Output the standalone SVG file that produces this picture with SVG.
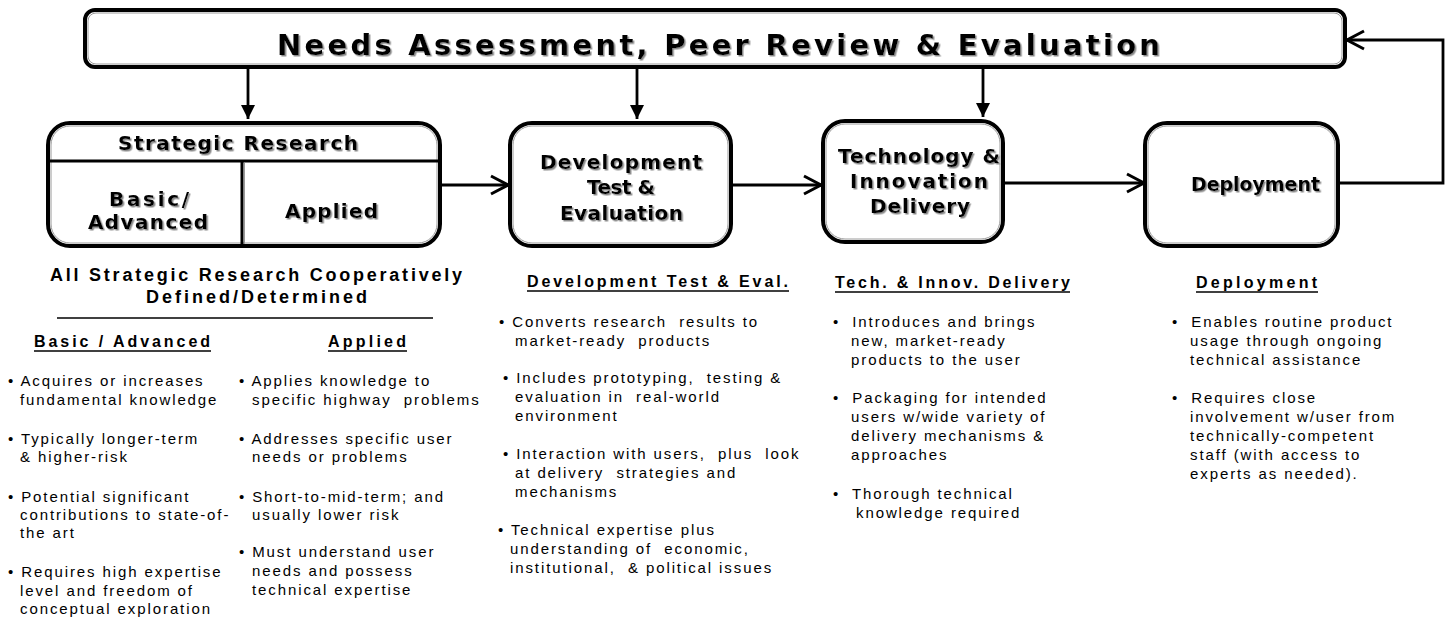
<svg xmlns="http://www.w3.org/2000/svg" width="1452" height="619" viewBox="0 0 1452 619">
<defs>
<filter id="sh" x="-5%" y="-20%" width="110%" height="150%">
<feDropShadow dx="1.5" dy="1.5" stdDeviation="0.7" flood-color="#8a8a8a" flood-opacity="1"/>
</filter>
<marker id="fill" markerWidth="16" markerHeight="16" refX="14" refY="7" orient="auto" markerUnits="userSpaceOnUse">
<path d="M0,0 L14,7 L0,14 z" fill="#000"/>
</marker>
<marker id="open" markerWidth="24" markerHeight="24" refX="19" refY="11" orient="auto" markerUnits="userSpaceOnUse">
<path d="M2,2 L19,11 L2,20" fill="none" stroke="#000" stroke-width="3"/>
</marker>
</defs>
<style>
.box{fill:#fff;stroke:#000;stroke-width:4}
.inner{fill:none;stroke:#9a9a9a;stroke-width:1}
.ttl{font-family:"DejaVu Sans",Verdana,sans-serif;font-weight:bold;fill:#000;filter:url(#sh)}
.hd{font-family:"Liberation Sans",Arial,sans-serif;font-weight:bold;fill:#000}
.tx{font-family:"Liberation Sans",Arial,sans-serif;font-size:15px;letter-spacing:1.9px;fill:#000;white-space:pre}
.ln{stroke:#000;stroke-width:2.8;fill:none}
.ul{stroke:#000;stroke-width:1.6}
</style>
<rect width="1452" height="619" fill="#fff"/>

<g id="connectors">
<line class="ln" x1="248" y1="68" x2="248" y2="119" marker-end="url(#fill)"/>
<line class="ln" x1="637" y1="68" x2="637" y2="119" marker-end="url(#fill)"/>
<line class="ln" x1="983" y1="68" x2="983" y2="117" marker-end="url(#fill)"/>
<line class="ln" x1="442" y1="185" x2="508" y2="185" marker-end="url(#open)"/>
<line class="ln" x1="733" y1="185" x2="821" y2="185" marker-end="url(#open)"/>
<line class="ln" x1="1005" y1="183" x2="1144" y2="183" marker-end="url(#open)"/>
<polyline class="ln" points="1339,183 1443,183 1443,40 1347,40" marker-end="url(#open)"/>
</g>

<g id="banner">
<rect class="box" x="85" y="10" width="1260" height="57" rx="10"/>
<rect class="inner" x="88" y="13" width="1254" height="51" rx="8"/>
<text class="ttl" x="277" y="55" font-size="29" textLength="883" lengthAdjust="spacing">Needs Assessment, Peer Review &amp; Evaluation</text>
</g>

<g id="strategic-research">
<rect class="box" x="48" y="123" width="392" height="123" rx="22"/>
<rect class="inner" x="51" y="126" width="386" height="117" rx="19"/>
<line x1="48" y1="161" x2="440" y2="161" stroke="#000" stroke-width="3"/>
<line x1="242" y1="161" x2="242" y2="246" stroke="#000" stroke-width="3"/>
<line x1="244.5" y1="163" x2="244.5" y2="244" stroke="#9a9a9a" stroke-width="1"/>
<text class="ttl" x="118" y="150" font-size="20" textLength="240" lengthAdjust="spacing">Strategic Research</text>
<text class="ttl" x="109" y="206" font-size="20" textLength="80" lengthAdjust="spacing">Basic/</text>
<text class="ttl" x="88" y="229" font-size="20" textLength="120" lengthAdjust="spacing">Advanced</text>
<text class="ttl" x="285" y="218" font-size="20" textLength="93" lengthAdjust="spacing">Applied</text>
</g>

<g id="development">
<rect class="box" x="510" y="123" width="221" height="123" rx="22"/>
<rect class="inner" x="513" y="126" width="215" height="117" rx="19"/>
<text class="ttl" x="540" y="169" font-size="20" textLength="162" lengthAdjust="spacing">Development</text>
<text class="ttl" x="587" y="194" font-size="20" textLength="68" lengthAdjust="spacing">Test &amp;</text>
<text class="ttl" x="560" y="220" font-size="20" textLength="123" lengthAdjust="spacing">Evaluation</text>
</g>

<g id="tech-innovation">
<rect class="box" x="823" y="121" width="180" height="121" rx="22"/>
<rect class="inner" x="826" y="124" width="174" height="115" rx="19"/>
<text class="ttl" x="838" y="163" font-size="20" textLength="162" lengthAdjust="spacing">Technology &amp;</text>
<text class="ttl" x="850" y="188" font-size="20" textLength="138" lengthAdjust="spacing">Innovation</text>
<text class="ttl" x="870" y="213" font-size="20" textLength="100" lengthAdjust="spacing">Delivery</text>
</g>

<g id="deployment">
<rect class="box" x="1145" y="123" width="193" height="123" rx="22"/>
<rect class="inner" x="1148" y="126" width="187" height="117" rx="19"/>
<text class="ttl" x="1191" y="191" font-size="19" textLength="129" lengthAdjust="spacing">Deployment</text>
</g>

<g id="strategic-text">
<text class="hd" x="50" y="281" font-size="18" textLength="412" lengthAdjust="spacing">All Strategic Research Cooperatively</text>
<text class="hd" x="146" y="303" font-size="18" textLength="221" lengthAdjust="spacing">Defined/Determined</text>
<line x1="57" y1="318" x2="433" y2="318" stroke="#000" stroke-width="1.5"/>
<text class="hd" x="34" y="347" font-size="16" textLength="176" lengthAdjust="spacing">Basic / Advanced</text>
<line class="ul" x1="34" y1="351" x2="211" y2="351"/>
<text class="hd" x="328" y="347" font-size="16" textLength="78" lengthAdjust="spacing">Applied</text>
<line class="ul" x1="328" y1="351" x2="407" y2="351"/>
<text class="tx" x="8" y="386">• Acquires or increases</text>
<text class="tx" x="20" y="405">fundamental knowledge</text>
<text class="tx" x="8" y="444">• Typically longer-term</text>
<text class="tx" x="20" y="462">&amp; higher-risk</text>
<text class="tx" x="8" y="502">• Potential significant</text>
<text class="tx" x="20" y="520">contributions to state-of-</text>
<text class="tx" x="20" y="538">the art</text>
<text class="tx" x="8" y="577">• Requires high expertise</text>
<text class="tx" x="20" y="596">level and freedom of</text>
<text class="tx" x="20" y="614">conceptual exploration</text>
<text class="tx" x="239" y="386">• Applies knowledge to</text>
<text class="tx" x="252" y="405">specific highway  problems</text>
<text class="tx" x="239" y="444">• Addresses specific user</text>
<text class="tx" x="252" y="462">needs or problems</text>
<text class="tx" x="239" y="502">• Short-to-mid-term; and</text>
<text class="tx" x="252" y="520">usually lower risk</text>
<text class="tx" x="239" y="557">• Must understand user</text>
<text class="tx" x="252" y="576">needs and possess</text>
<text class="tx" x="252" y="595">technical expertise</text>
</g>

<g id="development-text">
<text class="hd" x="527" y="287" font-size="16" textLength="261" lengthAdjust="spacing">Development Test &amp; Eval.</text>
<line class="ul" x1="527" y1="291" x2="789" y2="291"/>
<text class="tx" x="499" y="327">• Converts research  results to</text>
<text class="tx" x="515" y="346">market-ready  products</text>
<text class="tx" x="503" y="383">• Includes prototyping,  testing &amp;</text>
<text class="tx" x="515" y="402">evaluation in  real-world</text>
<text class="tx" x="515" y="421">environment</text>
<text class="tx" x="503" y="459">• Interaction with users,  plus  look</text>
<text class="tx" x="515" y="478">at delivery  strategies and</text>
<text class="tx" x="515" y="497">mechanisms</text>
<text class="tx" x="498" y="535">• Technical expertise plus</text>
<text class="tx" x="510" y="554">understanding of  economic,</text>
<text class="tx" x="510" y="573">institutional,  &amp; political issues</text>
</g>

<g id="tech-text">
<text class="hd" x="835" y="288" font-size="16" textLength="235" lengthAdjust="spacing">Tech. &amp; Innov. Delivery</text>
<line class="ul" x1="835" y1="292" x2="1070" y2="292"/>
<text class="tx" x="833" y="327">•  Introduces and brings</text>
<text class="tx" x="851" y="346">new, market-ready</text>
<text class="tx" x="851" y="365">products to the user</text>
<text class="tx" x="833" y="403">•  Packaging for intended</text>
<text class="tx" x="851" y="422">users w/wide variety of</text>
<text class="tx" x="851" y="441">delivery mechanisms &amp;</text>
<text class="tx" x="851" y="460">approaches</text>
<text class="tx" x="833" y="499">•  Thorough technical</text>
<text class="tx" x="856" y="518">knowledge required</text>
</g>

<g id="deployment-text">
<text class="hd" x="1196" y="288" font-size="16" textLength="121" lengthAdjust="spacing">Deployment</text>
<line class="ul" x1="1196" y1="292" x2="1318" y2="292"/>
<text class="tx" x="1172" y="327">•  Enables routine product</text>
<text class="tx" x="1190" y="346">usage through ongoing</text>
<text class="tx" x="1190" y="365">technical assistance</text>
<text class="tx" x="1172" y="403">•  Requires close</text>
<text class="tx" x="1190" y="422">involvement w/user from</text>
<text class="tx" x="1190" y="441">technically-competent</text>
<text class="tx" x="1190" y="460">staff (with access to</text>
<text class="tx" x="1190" y="479">experts as needed).</text>
</g>
</svg>
